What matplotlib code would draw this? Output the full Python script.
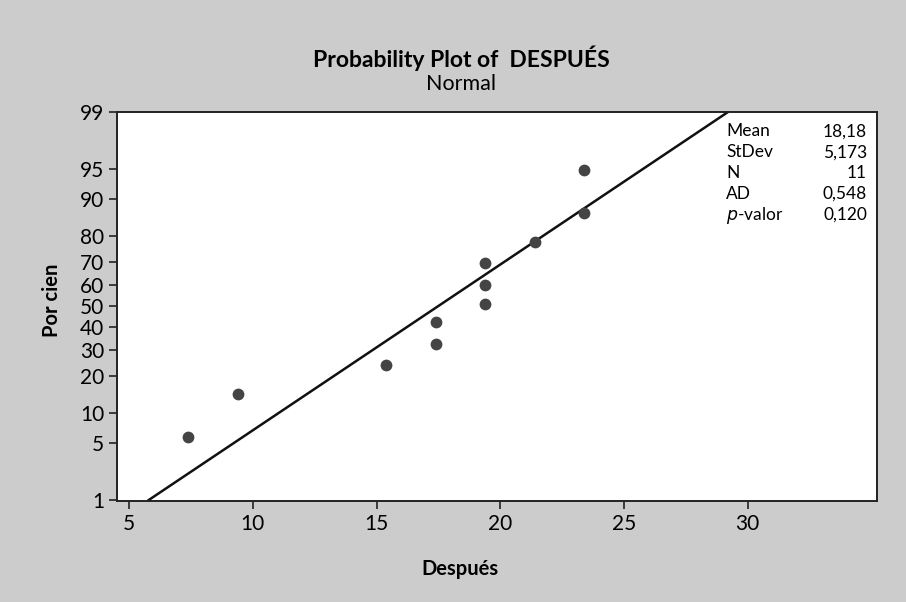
"""Normal probability plot of DESPUES (Minitab style)."""

from statistics import NormalDist
import numpy as np
import matplotlib.pyplot as plt

plt.rcParams['font.family'] = ['Lato', 'DejaVu Sans']

# Points (x value, cumulative percent).
despues = [7.4, 9.4, 15.4, 17.4, 17.4, 19.4, 19.4, 19.4, 21.4, 23.4, 23.4]
percent = [5.8, 14.6, 24.0, 32.6, 42.3, 51.0, 60.0, 69.6, 78.0, 86.7, 94.9]

# Fitted line as drawn (location, scale).
line_mean, line_sd = 17.5, 5.03

y_ticks = [1, 5, 10, 20, 30, 40, 50, 60, 70, 80, 90, 95, 99]
x_ticks = [5, 10, 15, 20, 25, 30]

stat_names = ["Mean", "StDev", "N", "AD", r"$p$-valor"]
stat_values = ["18,18", "5,173", "11", "0,548", "0,120"]

nd = NormalDist()
z = lambda p: nd.inv_cdf(p / 100.0)

W, H = 906, 602
fig = plt.figure(figsize=(W / 100, H / 100), dpi=100, facecolor="#cccccc")
ax = fig.add_axes([116.7 / W, 1 - 501 / H, 760 / W, 389 / H])
ax.set_facecolor("white")

z_lo, z_hi = z(1) - 0.012, z(99)
zz = np.array([z(1), z_hi])
ax.plot(line_mean + line_sd * zz, zz, color="#111111", lw=1.8, zorder=2)
ax.scatter(despues, [z(p) for p in percent], s=72, color="#444444", zorder=3, linewidths=0)

ax.set_xlim(4.503, 35.21)
ax.set_ylim(z_lo, z_hi)
ax.set_xticks(x_ticks)
ax.set_yticks([z(p) for p in y_ticks])
ax.set_yticklabels([str(p) for p in y_ticks])
ax.tick_params(labelsize=15, length=6, width=1.2, color="#222222", pad=3)
for s in ax.spines.values():
    s.set_linewidth(1.4)
    s.set_color("#222222")

fig.text(460 / W, 1 - 575 / H, "Después", ha="center", va="baseline",
         fontsize=14.5, fontweight="bold")
fig.text(52 / W, 1 - 300 / H, "Por cien", ha="center", va="center", rotation=90,
         fontsize=14.5, fontweight="bold")

fig.text(461 / W, 1 - 66.7 / H, "Probability Plot of  DESPUÉS", ha="center", va="baseline",
         fontsize=16.5, fontweight="bold")
fig.text(461 / W, 1 - 90 / H, "Normal", ha="center", va="baseline", fontsize=15.5)

for i, (n, v) in enumerate(zip(stat_names, stat_values)):
    yy = 1 - (136.5 + i * 20.8) / H
    fig.text(726 / W, yy, n, ha="left", va="baseline", fontsize=12.5)
    fig.text(867 / W, yy, v, ha="right", va="baseline", fontsize=12.5)

fig.savefig("out.png", dpi=100, facecolor=fig.get_facecolor())
